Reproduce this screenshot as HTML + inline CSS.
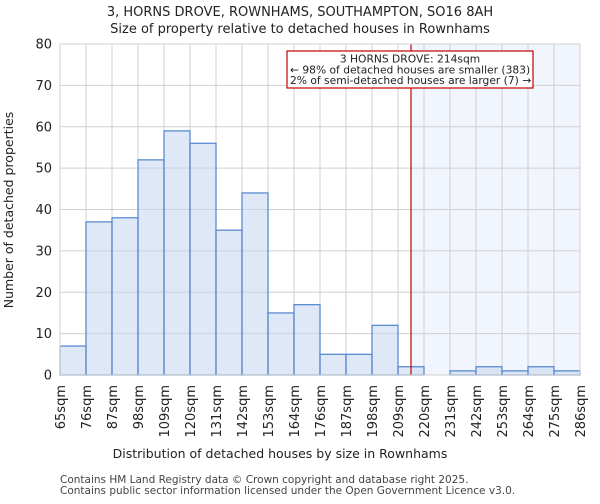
<!DOCTYPE html>
<html><head><meta charset="utf-8"><style>
body{margin:0;background:#fff;font-family:"DejaVu Sans","Liberation Sans",sans-serif;}
</style></head><body>
<svg width="600" height="500" xmlns="http://www.w3.org/2000/svg" font-family="DejaVu Sans, Liberation Sans, sans-serif">
<text x="300" y="16" text-anchor="middle" font-size="13" fill="#222">3, HORNS DROVE, ROWNHAMS, SOUTHAMPTON, SO16 8AH</text>
<text x="300" y="33" text-anchor="middle" font-size="13" fill="#222">Size of property relative to detached houses in Rownhams</text>
<g id="plot"></g>
<text x="280" y="458" text-anchor="middle" font-size="12.5" fill="#222">Distribution of detached houses by size in Rownhams</text>
<text transform="translate(13,210) rotate(-90)" text-anchor="middle" font-size="12.5" fill="#222">Number of detached properties</text>
<text x="60" y="483" font-size="10.5" fill="#444">Contains HM Land Registry data © Crown copyright and database right 2025.</text>
<text x="60" y="494" font-size="10.5" fill="#444">Contains public sector information licensed under the Open Government Licence v3.0.</text>
</svg>
<script>
const binLabels=["65sqm","76sqm","87sqm","98sqm","109sqm","120sqm","131sqm","142sqm","153sqm","164sqm","176sqm","187sqm","198sqm","209sqm","220sqm","231sqm","242sqm","253sqm","264sqm","275sqm","286sqm"];
const counts=[7,37,38,52,59,56,35,44,15,17,5,5,12,2,0,1,2,1,2,1];
const yTicks=[0,10,20,30,40,50,60,70,80];
const propertyBinPos=13.5;
const NS="http://www.w3.org/2000/svg";
const L=60,R=580,T=44,B=375,YMAX=80;
const bw=(R-L)/counts.length;
const xs=i=>L+i*bw;
const ys=v=>B-(v/YMAX)*(B-T);
const g=document.getElementById('plot');
function mk(t,a){const e=document.createElementNS(NS,t);for(const k in a)e.setAttribute(k,a[k]);g.appendChild(e);return e;}
let e;
e=mk('rect',{x:L,y:T,width:R-L,height:B-T,fill:'#fff'});


const px=xs(propertyBinPos);
e=mk('rect',{x:px,y:T,width:R-px,height:B-T,fill:'#f1f5fd'});


yTicks.forEach(v=>{
 e=mk('line',{x1:L,x2:R,y1:ys(v),y2:ys(v),stroke:'#d0d0d0','stroke-width':1});
 
 
 e=mk('text',{x:L-8,y:ys(v)+4.5,'text-anchor':'end','font-size':13,fill:'#222'});
 e.textContent=v;
 
 
});
binLabels.forEach((s,i)=>{
 e=mk('line',{x1:xs(i),x2:xs(i),y1:T,y2:B,stroke:'#d0d0d0','stroke-width':1});
 
 
 e=mk('text',{transform:`translate(${xs(i)+5},${B+10}) rotate(-90)`,'text-anchor':'end','font-size':13,fill:'#222'});
 e.textContent=s;
 
 
});
counts.forEach((v,i)=>{
 if(v<=0)return;
 e=mk('rect',{x:xs(i),y:ys(v),width:bw,height:B-ys(v),fill:'rgba(196,214,238,0.55)',stroke:'#5b8bd0','stroke-width':1.3});
 
 
});
e=mk('line',{x1:px,x2:px,y1:T,y2:B,stroke:'#c00000','stroke-width':1.2});


e=mk('rect',{x:287,y:51,width:246,height:37,fill:'#fff',stroke:'#c00000','stroke-width':1.2});


[["3 HORNS DROVE: 214sqm","middle",410],["← 98% of detached houses are smaller (383)","start",290],["2% of semi-detached houses are larger (7) →","start",290]].forEach((a,k)=>{
 e=mk('text',{x:a[2],y:62.5+k*10.8,'text-anchor':a[1],'font-size':10.7,fill:'#222'});
 e.textContent=a[0];
 
 
});
e=mk('rect',{x:L,y:T,width:R-L,height:B-T,fill:'none',stroke:'#d0d0d0'});


</script>
</body></html>
